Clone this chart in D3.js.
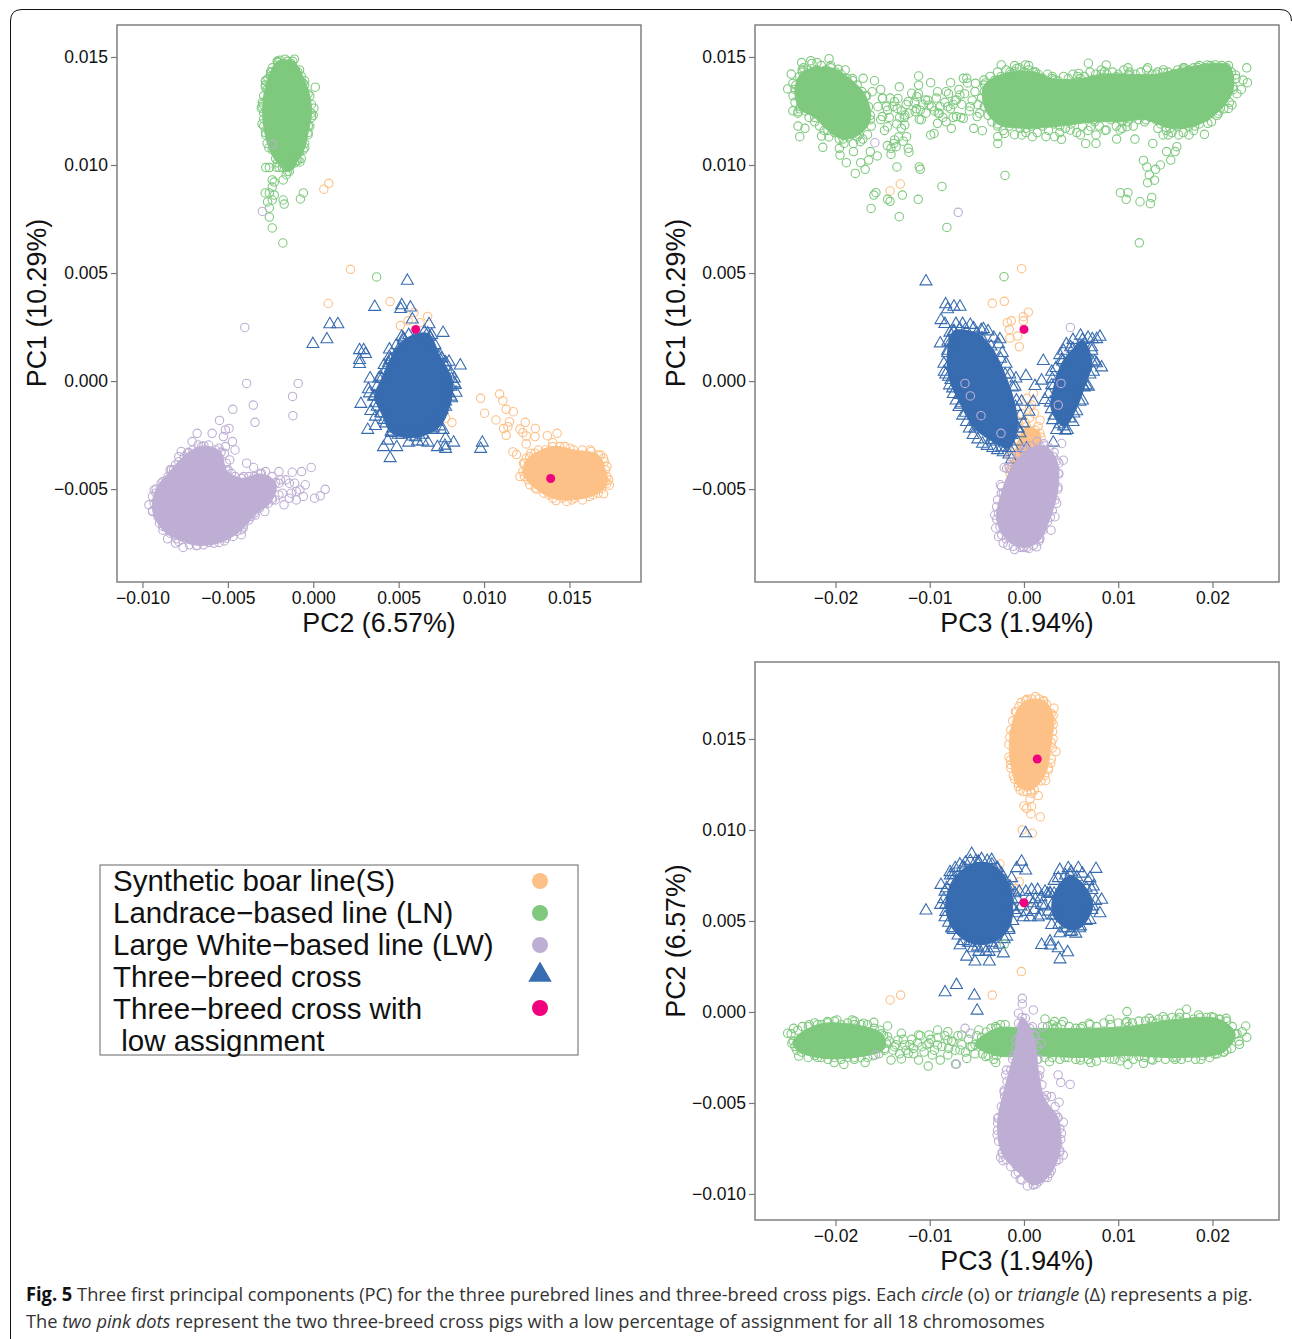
<!DOCTYPE html>
<html>
<head>
<meta charset="utf-8">
<script src="https://cdnjs.cloudflare.com/ajax/libs/d3/7.8.5/d3.min.js"></script>
<style>
body{margin:0;background:#fff;}
svg{display:block;}
</style>
</head>
<body>
<svg id="canvas" width="1292" height="1339"></svg>
<script>
// values. *Core = outline of the area where the points overlap into a solid patch
const pinkPc1=[0.00239,-0.00451];
const pinkPc2=[0.006,0.0139];
const pinkPc3=[0,0.00141];

// PC2 / PC1
const sPc2Pc1=[[0.00218,0.00517],[0.00088,0.00359],[0.0045,0.00368],[0.0059,0.00317],[0.0067,0.00299],[0.0051,0.00257],[0.00555,0.00279],[0.00625,0.0027],[0.00812,-0.00192],[0.00775,-0.00172],[0.0098,-0.0008],[0.01091,-0.0006],[0.0111,-0.00091],[0.0113,-0.00131],[0.01171,-0.00142],[0.01003,-0.00149],[0.0107,-0.0018],[0.01149,-0.00189],[0.0114,-0.00211],[0.01114,-0.0022],[0.0113,-0.00251],[0.01241,-0.00191],[0.0121,-0.00222],[0.013,-0.00219],[0.01227,-0.00239],[0.01247,-0.00254],[0.01299,-0.00257],[0.01371,-0.00253],[0.01428,-0.00242],[0.01247,-0.00291],[0.01169,-0.00328],[0.0119,-0.0034],[0.0121,-0.00442],[0.01734,-0.00482],[0.017,-0.00522],[0.01576,-0.0055],[0.01422,-0.00553],[0.01381,-0.00527],[0.01309,-0.005],[0.01268,-0.0048],[0.01247,-0.00411],[0.01231,-0.0038],[0.01274,-0.00334],[0.01319,-0.00319],[0.01402,-0.00285],[0.01473,-0.00303],[0.01576,-0.00319],[0.01622,-0.00319],[0.01683,-0.00342],[0.01704,-0.00373],[0.0172,-0.00442],[0.0171,-0.00465],[0.01638,-0.00527],[0.01459,-0.00542],[0.0153,-0.00542],[0.00062,0.00888],[0.00091,0.00915],[0.01299,-0.00334],[0.0136,-0.00319],[0.01443,-0.00303],[0.01504,-0.00311],[0.01628,-0.00326],[0.017,-0.00357],[0.0172,-0.00396],[0.0173,-0.00457],[0.01689,-0.00496],[0.01617,-0.00534],[0.01484,-0.00557],[0.0135,-0.00519],[0.01258,-0.00457],[0.01227,-0.00419],[0.01247,-0.00357]];
const sPc2Pc1Core=[[0.01268,-0.0035],[0.01402,-0.00303],[0.01525,-0.00319],[0.01669,-0.00342],[0.0171,-0.00411],[0.0172,-0.00473],[0.01669,-0.00519],[0.01515,-0.0055],[0.01402,-0.00542],[0.01299,-0.00496],[0.01237,-0.00442],[0.01237,-0.0038]];
const lnPc2Pc1=[[-0.00165,0.0149],[-0.00205,0.01475],[-0.00195,0.01485],[-0.0013,0.0147],[-0.00245,0.0143],[-0.00105,0.0144],[-0.0028,0.0137],[-0.0007,0.0141],[-0.00265,0.014],[-0.0005,0.0137],[0.00012,0.0136],[0.00004,0.01263],[-0.0001,0.0122],[-0.00029,0.0118],[-0.00278,0.01389],[-0.00304,0.01263],[-0.0029,0.01213],[-0.00298,0.0129],[-0.00278,0.01139],[-0.00059,0.01069],[-0.0007,0.0103],[-0.00078,0.01014],[-0.00278,0.00988],[-0.00257,0.00988],[-0.00216,0.0099],[-0.00181,0.0099],[-0.00158,0.00988],[-0.00108,0.0101],[-0.00111,0.0104],[-0.00158,0.00955],[-0.00176,0.00931],[-0.0024,0.00931],[-0.00228,0.00921],[-0.0024,0.00898],[-0.00281,0.00871],[-0.00257,0.00871],[-0.00228,0.00861],[-0.00267,0.00829],[-0.0024,0.00838],[-0.00257,0.00801],[-0.00257,0.00759],[-0.00176,0.00838],[-0.0017,0.00819],[-0.00075,0.00843],[-0.00058,0.00871],[-0.0024,0.00709],[-0.00178,0.00639],[0.00371,0.00482],[-0.0018,0.0147],[-0.0012,0.0146],[-0.0009,0.0143],[-0.0006,0.0138],[-0.0003,0.0133],[-0.0001,0.0128],[0,0.0123],[-0.0002,0.0118],[-0.0003,0.0114],[-0.0005,0.011],[-0.0008,0.0106],[-0.001,0.0102],[-0.0013,0.01],[-0.0015,0.0097],[-0.0018,0.0102],[-0.002,0.0099],[-0.0022,0.0103],[-0.0024,0.0107],[-0.0027,0.011],[-0.0028,0.0115],[-0.003,0.0119],[-0.0029,0.0124],[-0.003,0.0127],[-0.0029,0.0132],[-0.0027,0.0135],[-0.0028,0.0139],[-0.0025,0.0141],[-0.0024,0.0145],[-0.0021,0.0148],[-0.0015,0.0148],[-0.0011,0.0149]];
const lnPc2Pc1Core=[[-0.0021,0.0148],[-0.0012,0.0148],[-0.0008,0.0144],[-0.0005,0.0139],[-0.0002,0.0132],[-0.0001,0.0124],[-0.0003,0.0115],[-0.0005,0.0108],[-0.0009,0.0102],[-0.0014,0.0097],[-0.0021,0.0101],[-0.0026,0.0108],[-0.0029,0.0118],[-0.00295,0.0128],[-0.0028,0.0136],[-0.0025,0.0143]];
const lwPc2Pc1=[[-0.00401,0.00248],[-0.0039,-0.00011],[-0.00088,-0.00011],[-0.00121,-0.00071],[-0.00351,-0.00111],[-0.00471,-0.00131],[-0.00119,-0.0016],[-0.00341,-0.00191],[-0.00549,-0.00182],[-0.00493,-0.00219],[-0.00514,-0.00226],[-0.00526,-0.00257],[-0.00592,-0.00242],[-0.0068,-0.00242],[-0.00709,-0.0028],[-0.00473,-0.0028],[-0.00514,-0.00303],[-0.00458,-0.00319],[-0.00773,-0.00326],[-0.00787,-0.0035],[-0.0039,-0.0038],[-0.00349,-0.004],[-0.00012,-0.004],[-0.00068,-0.00419],[-0.00123,-0.00422],[-0.00201,-0.00419],[-0.00279,-0.00419],[0.0007,-0.00501],[0.00041,-0.00531],[0.00008,-0.00542],[-0.00047,-0.0048],[-0.00058,-0.00534],[-0.00099,-0.0055],[-0.00171,-0.00573],[-0.00284,-0.00604],[-0.00129,-0.00519],[-0.00201,-0.00473],[-0.0016,-0.00457],[-0.00109,-0.00473],[-0.00242,-0.00504],[-0.00222,-0.0055],[-0.00273,-0.00457],[-0.00078,-0.00504],[-0.00181,-0.00519],[-0.00304,-0.00565],[-0.00962,-0.00573],[-0.00941,-0.00604],[-0.00921,-0.00519],[-0.0088,-0.00465],[-0.009,-0.00658],[-0.00853,-0.0073],[-0.00807,-0.0075],[-0.00762,-0.0077],[-0.00684,-0.00762],[-0.00612,-0.00747],[-0.00551,-0.00747],[-0.00469,-0.00719],[-0.00421,-0.00711],[-0.00421,-0.00688],[-0.00376,-0.00642],[-0.00345,-0.00611],[-0.00838,-0.00411],[-0.00807,-0.00388],[-0.00736,-0.00334],[-0.00653,-0.00303],[-0.00571,-0.00319],[-0.00509,-0.0038],[-0.00479,-0.00427],[-0.00407,-0.00442],[-0.00345,-0.00442],[-0.00298,0.00785],[-0.0024,0.01095],[-0.00941,-0.00534],[-0.00931,-0.00565],[-0.0091,-0.00627],[-0.0088,-0.00673],[-0.00838,-0.00704],[-0.00787,-0.00742],[-0.00725,-0.00758],[-0.00643,-0.00758],[-0.00582,-0.0075],[-0.0051,-0.00727],[-0.00448,-0.00696],[-0.00407,-0.00665],[-0.00366,-0.00627],[-0.00314,-0.00588],[-0.00263,-0.00565],[-0.00931,-0.00504],[-0.0089,-0.00473],[-0.00849,-0.00442],[-0.00818,-0.00411],[-0.00787,-0.00373],[-0.00756,-0.0035],[-0.00705,-0.00319],[-0.00674,-0.00296],[-0.00612,-0.00296],[-0.00551,-0.00311],[-0.0052,-0.00334],[-0.00489,-0.00365],[-0.00499,-0.00411],[-0.00458,-0.00442],[-0.00376,-0.00442],[-0.00304,-0.00427],[-0.00242,-0.00442],[-0.00191,-0.00457],[-0.0014,-0.00473],[-0.00099,-0.00511],[-0.0014,-0.00542],[-0.00201,-0.00527],[-0.00242,-0.00542],[-0.00284,-0.00565]];
const lwPc2Pc1Core=[[-0.0092,-0.005],[-0.0083,-0.0041],[-0.0073,-0.0033],[-0.0064,-0.003],[-0.0054,-0.0033],[-0.0051,-0.0041],[-0.0042,-0.0045],[-0.0031,-0.0043],[-0.0022,-0.0047],[-0.0024,-0.0055],[-0.0034,-0.0062],[-0.0041,-0.0068],[-0.0052,-0.0074],[-0.0068,-0.0076],[-0.008,-0.0073],[-0.0088,-0.0069],[-0.0094,-0.006]];
const crossPc2Pc1=[[0.00551,0.00464],[0.0036,0.00343],[0.00518,0.00351],[0.00512,0.00333],[0.00569,0.0034],[0.0058,0.00285],[0.00678,0.00263],[0.0076,0.00223],[0.00097,0.00263],[0.00144,0.00263],[0.0008,0.00193],[-0.00002,0.00171],[0.00271,0.00143],[0.00295,0.00143],[0.00306,0.00125],[0.00271,0.00097],[0.00271,0.00079],[0.00446,0.00146],[0.0044,0.00082],[0.00415,0.00074],[0.00861,0.00072],[0.00795,0.00089],[0.00775,0.00086],[0.00826,0.00012],[0.00832,-0.00018],[0.00836,-0.00054],[0.00333,0.00012],[0.00384,0.00012],[0.00323,-0.00038],[0.00329,-0.00057],[0.00279,-0.00106],[0.00337,-0.00139],[0.00364,-0.00165],[0.00319,-0.00226],[0.00364,-0.00208],[0.00436,-0.00276],[0.00411,-0.00306],[0.00489,-0.00306],[0.0045,-0.00357],[0.00559,-0.00285],[0.0061,-0.0028],[0.00641,-0.0028],[0.00672,-0.00285],[0.00727,-0.00306],[0.00775,-0.00314],[0.00771,-0.00299],[0.00822,-0.00285],[0.0076,-0.00226],[0.00775,-0.00265],[0.0099,-0.00285],[0.0098,-0.00314],[0.00395,-0.00072],[0.00374,-0.00119],[0.00415,-0.0018],[0.00456,-0.00234],[0.00497,-0.00249],[0.00693,-0.00226],[0.00723,-0.0018],[0.00775,-0.00119],[0.00806,-0.00072],[0.00806,-0.00026],[0.00764,0.00035],[0.00734,0.00112],[0.00682,0.00205],[0.006,0.00205],[0.00518,0.00205],[0.00497,0.00143],[0.00456,0.00097],[0.00559,0.00213],[0.00651,0.00228],[0.00693,0.00213],[0.00713,0.00166],[0.00754,0.00105],[0.00775,0.00066],[0.00806,0.00035],[0.00826,-0.00011],[0.00795,-0.00057],[0.00775,-0.00095],[0.00754,-0.00134],[0.00723,-0.00188],[0.00703,-0.00219],[0.00641,-0.00249],[0.0058,-0.00257],[0.00518,-0.00249],[0.00466,-0.00219],[0.00425,-0.00196],[0.00395,-0.00149],[0.00364,-0.00103],[0.00353,-0.00072],[0.00374,-0.00026],[0.00395,0.0002],[0.00425,0.00051],[0.00446,0.00112],[0.00487,0.00166],[0.00528,0.00197]];
const crossPc2Pc1Core=[[0.0053,0.0019],[0.0067,0.0022],[0.0074,0.0012],[0.0081,0.0001],[0.0081,-0.0008],[0.0074,-0.0021],[0.006,-0.0026],[0.0046,-0.0024],[0.004,-0.0015],[0.0036,-0.0007],[0.004,0.0001],[0.0045,0.001]];

// PC3 / PC1
const sPc3Pc1=[[-0.00025,0.0052],[-0.00209,0.00369],[-0.00336,0.0036],[-0.00007,0.00298],[0.00046,0.00319],[-0.00007,0.00279],[-0.00177,0.0027],[-0.00134,0.00279],[-0.00156,0.00239],[-0.00067,0.00208],[-0.00149,0.00199],[-0.0005,0.00159],[0.0017,-0.00181],[-0.00025,-0.0015],[0.00081,-0.00111],[0.00099,-0.00057],[0.00117,-0.00227],[-0.01421,0.0088],[-0.01312,0.00912],[-0.0012,-0.0043],[-0.0016,-0.004],[-0.0014,-0.0035],[-0.0009,-0.0031],[-0.0006,-0.0027],[-0.0002,-0.0023],[0.0001,-0.0019],[0.0006,-0.0017],[0.0011,-0.0015],[0.0015,-0.0021],[0.0018,-0.0026],[0.0003,-0.0008],[0.0006,-0.0012],[-0.0006,-0.0019]];
const sPc3Pc1Core=[[0.00028,-0.00211],[0.0017,-0.00242],[0.00134,-0.00335],[-0.00042,-0.00397],[-0.00149,-0.00427],[-0.00113,-0.0035]];
const lnPc3Pc1=[[-0.02507,0.01352],[-0.0247,0.01421],[-0.0236,0.01474],[-0.02262,0.01483],[-0.02196,0.01474],[-0.02068,0.01492],[-0.02353,0.0144],[-0.0197,0.01443],[-0.01897,0.0144],[-0.01706,0.01401],[-0.01586,0.0139],[-0.02452,0.01378],[-0.02452,0.01251],[-0.02397,0.01247],[-0.02397,0.0118],[-0.02379,0.01131],[-0.02324,0.0117],[-0.02134,0.01082],[-0.02148,0.01134],[-0.01959,0.01077],[-0.01952,0.01046],[-0.01885,0.01011],[-0.0179,0.00961],[-0.01732,0.01011],[-0.01685,0.0098],[-0.01648,0.01023],[-0.01557,0.01042],[-0.01809,0.01062],[-0.01736,0.01108],[-0.0163,0.01062],[-0.01611,0.01339],[-0.0152,0.0135],[-0.01502,0.01308],[-0.01323,0.01362],[-0.01337,0.01308],[-0.01374,0.01293],[-0.01228,0.01293],[-0.01345,0.01262],[-0.01447,0.01254],[-0.01502,0.01224],[-0.01319,0.0122],[-0.01447,0.01177],[-0.01264,0.01231],[-0.01264,0.01185],[-0.01301,0.0117],[-0.01246,0.01131],[-0.01374,0.01116],[-0.01411,0.01077],[-0.01356,0.01085],[-0.01228,0.01077],[-0.0122,0.01059],[-0.01411,0.01049],[-0.01348,0.00991],[-0.01118,0.01412],[-0.01118,0.0137],[-0.0099,0.01381],[-0.01191,0.01332],[-0.01136,0.01316],[-0.01045,0.01301],[-0.011,0.01254],[-0.01155,0.01247],[-0.01111,0.01211],[-0.01008,0.01278],[-0.00917,0.01339],[-0.00826,0.01339],[-0.00778,0.01381],[-0.00899,0.01239],[-0.00917,0.01193],[-0.0099,0.01139],[-0.00954,0.01146],[-0.00826,0.012],[-0.00771,0.0117],[-0.00808,0.0127],[-0.00716,0.01301],[-0.00643,0.01401],[-0.00607,0.01401],[-0.0068,0.01324],[-0.00716,0.01224],[-0.00643,0.01216],[-0.00533,0.0117],[-0.00442,0.01159],[-0.00497,0.01224],[-0.00515,0.01378],[-0.00424,0.01393],[-0.0057,0.0127],[-0.00241,0.01463],[-0.00077,0.01447],[0.00015,0.01463],[0.00051,0.0144],[-0.00095,0.01432],[0.00325,0.01393],[0.00581,0.01424],[0.00683,0.01471],[0.00873,0.01463],[0.00855,0.01432],[0.01103,0.0145],[0.00983,0.01409],[0.01312,0.0145],[0.01476,0.01427],[0.01695,0.0144],[0.01842,0.01452],[0.01944,0.01463],[0.02032,0.01463],[0.02134,0.01447],[0.02364,0.0145],[0.02244,0.01417],[0.02324,0.01393],[0.02371,0.01381],[0.02306,0.0135],[0.02207,0.01278],[0.0217,0.01262],[0.02061,0.01239],[0.01915,0.01142],[0.01951,0.01193],[-0.00278,0.01131],[-0.00278,0.011],[-0.00205,0.01146],[-0.00022,0.01139],[0.00088,0.01131],[0.00234,0.01131],[0.00325,0.01131],[0.00398,0.01119],[0.0049,0.01162],[0.00599,0.01139],[0.00654,0.011],[0.00764,0.011],[0.00764,0.01139],[0.00873,0.01162],[0.00983,0.0112],[0.01093,0.01177],[0.01177,0.0112],[0.01019,0.01162],[0.00709,0.01177],[0.01367,0.011],[0.01421,0.0117],[0.01476,0.01139],[0.01531,0.01139],[0.01641,0.01139],[0.0175,0.01139],[0.01622,0.01085],[0.01604,0.01062],[0.01513,0.01062],[0.01557,0.01023],[0.01447,0.01],[0.01268,0.01021],[0.01304,0.00991],[0.01396,0.0098],[0.0133,0.00954],[0.01385,0.0093],[0.01312,0.00918],[-0.00201,0.00952],[-0.01111,0.00991],[-0.011,0.0098],[-0.0087,0.00901],[-0.01571,0.00872],[-0.01593,0.00861],[-0.0129,0.00861],[-0.01447,0.00841],[-0.01421,0.00832],[-0.01122,0.00841],[-0.01622,0.00799],[-0.01323,0.00761],[-0.00818,0.00711],[0.01023,0.00872],[0.01103,0.00872],[0.01085,0.00841],[0.01231,0.0083],[0.01356,0.0085],[0.01341,0.00821],[0.01224,0.0064],[-0.00212,0.00483],
[-0.0041,0.0138],[-0.0036,0.0141],[-0.0032,0.0139],[-0.0028,0.0143],[-0.0024,0.0141],[-0.0019,0.0144],[-0.0014,0.0142],[-0.001,0.0146],[-0.0005,0.0145],[0,0.0143],[0.0005,0.0146],[0.001,0.0143],[0.0015,0.0142],[0.002,0.014],[0.0025,0.0142],[0.003,0.0141],[0.0036,0.0139],[0.0042,0.0141],[0.0047,0.014],[0.0052,0.0142],[0.0057,0.0141],[0.0064,0.0141],[0.007,0.0143],[0.0076,0.0142],[0.0082,0.0144],[0.0088,0.0142],[0.0094,0.0143],[0.01,0.0142],[0.0106,0.0144],[0.0112,0.0143],[0.0118,0.0142],[0.0124,0.0143],[0.013,0.0144],[0.0136,0.0142],[0.0142,0.0143],[0.0148,0.0144],[0.0153,0.0143],[0.0158,0.0142],[0.0163,0.0144],[0.0169,0.0145],[0.0175,0.0144],[0.018,0.0145],[0.0186,0.0146],[0.0192,0.0145],[0.0198,0.0146],[0.0204,0.0145],[0.021,0.0146],[0.0215,0.0145],[0.022,0.0143],[0.0225,0.014],[0.0222,0.0136],[0.0226,0.0133],[0.0218,0.0129],
[0.0212,0.0126],[0.0205,0.0123],[0.0199,0.012],[0.0192,0.0122],[0.0186,0.0119],[0.018,0.0116],[0.0175,0.0118],[0.0169,0.0115],[0.0163,0.0118],[0.0157,0.0115],[0.0151,0.0116],[0.0145,0.0119],[0.014,0.0121],[0.0134,0.0122],[0.0128,0.012],[0.0122,0.0121],[0.0116,0.0118],[0.011,0.012],[0.0104,0.0117],[0.0098,0.0118],[0.0092,0.0121],[0.0086,0.0116],[0.008,0.0118],[0.0074,0.0121],[0.0068,0.0116],[0.0062,0.0118],[0.0056,0.0115],[0.005,0.0119],[0.0044,0.0117],[0.0038,0.0115],[0.0032,0.0119],[0.0026,0.0116],[0.002,0.0118],[0.0014,0.0115],[0.0008,0.0118],[0.0002,0.0115],[-0.0004,0.0117],[-0.001,0.0114],[-0.0016,0.0118],[-0.0022,0.0116],[-0.0028,0.0118],[-0.0034,0.012],[-0.0038,0.0123],[-0.0042,0.0127],[-0.0045,0.0131],[-0.0042,0.0134],
[-0.0245,0.0132],[-0.0242,0.0137],[-0.0238,0.0141],[-0.0234,0.0145],[-0.0229,0.0144],[-0.0225,0.0147],[-0.022,0.0144],[-0.0215,0.0146],[-0.021,0.0144],[-0.0205,0.0146],[-0.02,0.0143],[-0.0194,0.0142],[-0.0188,0.014],[-0.0182,0.014],[-0.0177,0.0137],[-0.0172,0.0134],[-0.0167,0.0132],[-0.0165,0.0127],[-0.0163,0.0123],[-0.0162,0.0118],[-0.0166,0.0114],[-0.0171,0.0112],[-0.0177,0.0113],[-0.0181,0.011],[-0.0186,0.0113],[-0.0191,0.011],[-0.0196,0.0112],[-0.0201,0.0115],[-0.0207,0.0113],[-0.0212,0.0116],[-0.0217,0.0118],[-0.0222,0.012],[-0.0228,0.0122],[-0.0232,0.0125],[-0.0237,0.0127],[-0.024,0.0124],[-0.0243,0.0129],
[-0.0155,0.0127],[-0.015,0.0131],[-0.0146,0.0127],[-0.0142,0.0131],[-0.0152,0.0121],[-0.0148,0.0116],[-0.0143,0.0122],[-0.0139,0.0127],[-0.0135,0.0119],[-0.013,0.0125],[-0.0127,0.0122],[-0.0125,0.0128],[-0.0138,0.011],[-0.0133,0.0113],[-0.0128,0.0111],[-0.0145,0.0109],[-0.0122,0.0124],[-0.0116,0.0129],[-0.0112,0.0133],[-0.0107,0.0128],[-0.0104,0.0124],[-0.0102,0.013],[-0.0098,0.0127],[-0.0095,0.0125],[-0.0093,0.0131],[-0.0089,0.0127],[-0.0086,0.0122],[-0.0084,0.0129],[-0.008,0.0133],[-0.0078,0.0126],[-0.0075,0.0122],[-0.0073,0.013],[-0.0069,0.0135],[-0.0066,0.0128],[-0.0063,0.0133],[-0.006,0.0138],[-0.0058,0.0125],[-0.0055,0.013],[-0.0052,0.0134],[-0.0049,0.0128],[-0.0047,0.0124],[-0.0067,0.0122],[-0.0075,0.0128],[-0.0091,0.0124],[-0.0109,0.0121],[-0.0114,0.0126]];
const lnPc3Pc1CoreLeft=[[-0.0235,0.0143],[-0.0205,0.0145],[-0.0182,0.0139],[-0.0168,0.0132],[-0.0163,0.0121],[-0.0175,0.0114],[-0.0192,0.0112],[-0.0208,0.0116],[-0.0222,0.0122],[-0.0238,0.0126],[-0.0243,0.0135]];
const lnPc3Pc1CoreRight=[[-0.0042,0.0137],[-0.0015,0.0143],[0.0012,0.0143],[0.003,0.014],[0.006,0.014],[0.0082,0.0142],[0.0111,0.0142],[0.014,0.0142],[0.017,0.0145],[0.0217,0.0146],[0.0222,0.0135],[0.0207,0.0125],[0.0181,0.0118],[0.0155,0.0117],[0.0129,0.0121],[0.0104,0.012],[0.0075,0.012],[0.0038,0.0118],[0.0002,0.0117],[-0.0028,0.0119],[-0.0042,0.0127]];
const lwPc3Pc1=[[-0.00698,0.00781],[-0.01582,0.01103],[0.00492,0.00248],[-0.00626,-0.00011],[-0.00569,-0.00069],[-0.00456,-0.0016],[-0.00244,-0.00242],[0.00393,-0.00011],[0.00364,-0.00111],[0.004,-0.00289],[0.00417,-0.00366],[-0.00149,-0.0035],[-0.00184,-0.00404],[-0.00237,-0.00489],[-0.00272,-0.00613],[-0.00237,-0.00713],[-0.00113,-0.00764],[0.00053,-0.00775],[0.0017,-0.00728],[0.00287,-0.0069],[0.00347,-0.00566],[0.00364,-0.00427],[0.00311,-0.0035],[0.0017,-0.00304],[-0.00007,-0.00327],[-0.00255,-0.00674],[-0.0029,-0.00582],[-0.00219,-0.0052],[-0.00007,-0.00767],[-0.00095,-0.00736],[0.00311,-0.00489],[0.00329,-0.00628],[0.00134,-0.00767],[-0.0021,-0.004],[-0.0025,-0.0048],[-0.0028,-0.0055],[-0.0031,-0.0062],[-0.003,-0.0068],[-0.0027,-0.0072],[-0.0022,-0.0075],[-0.0017,-0.0076],[-0.001,-0.0078],[-0.0004,-0.0077],[0.0003,-0.0077],[0.001,-0.0076],[0.0016,-0.0073],[0.002,-0.0069],[0.0025,-0.0065],[0.003,-0.006],[0.0033,-0.0055],[0.0036,-0.0049],[0.0037,-0.0043],[0.0037,-0.0038],[0.0032,-0.0033],[0.0027,-0.0031],[0.0021,-0.0029],[0.0014,-0.0028],[0.0007,-0.003],[0.0001,-0.0031],[-0.0005,-0.0034],[-0.001,-0.0037],[-0.0015,-0.004]];
const lwPc3Pc1Core=[[0.0003,-0.0032],[0.0022,-0.003],[0.0035,-0.0037],[0.0036,-0.005],[0.0028,-0.0063],[0.0016,-0.0074],[0,-0.0077],[-0.0019,-0.0073],[-0.0029,-0.0064],[-0.0024,-0.0052],[-0.0014,-0.0041]];
const crossPc3Pc1=[[-0.0104,0.00461],[-0.00831,0.00355],[-0.00743,0.00344],[-0.00679,0.00344],[-0.0081,0.00332],[-0.00881,0.00282],[-0.00839,0.00264],[-0.00722,0.00264],[-0.00651,0.00264],[-0.00534,0.00244],[-0.00453,0.00236],[-0.00786,0.00224],[-0.00447,0.00198],[-0.00255,0.00193],[-0.00888,0.00174],[-0.00807,0.00182],[-0.00248,0.00103],[-0.00846,0.00043],[-0.00775,0.00005],[-0.00757,-0.00034],[-0.00679,-0.00065],[-0.00661,-0.00103],[-0.00619,-0.00147],[-0.0052,-0.00188],[-0.00467,-0.00211],[-0.00343,-0.00273],[-0.00237,-0.00307],[-0.00131,-0.00363],[-0.00085,0.00012],[0.00021,0.00023],[-0.00095,-0.00026],[0.00187,0.00002],[0.00205,0.00093],[0.00117,-0.00023],[-0.00025,-0.00096],[0.00053,-0.00142],[0.00099,-0.00096],[-0.00007,-0.00196],[-0.00042,-0.00242],[0.00028,-0.00312],[-0.00131,-0.0025],[0.00294,0.00043],[0.00495,0.00156],[0.0063,0.00156],[0.00725,0.00194],[0.00806,0.00205],[0.00771,0.00194],[0.00718,0.00156],[0.00771,0.00082],[0.00824,0.00063],[0.00736,0.00043],[0.00683,-0.00026],[0.00594,-0.00096],[0.00488,-0.00173],[0.0046,-0.00227],[0.00347,-0.00227],[0.00311,-0.00285],[0.00304,-0.00181],[0.00223,-0.00088],[0.00294,-0.00019],[0.004,0.00097],[0.0063,-0.00026],
[-0.0078,0.0018],[-0.0081,0.0013],[-0.0085,0.0008],[-0.0079,0.0008],[-0.0083,0.0003],[-0.0079,-0.0002],[-0.0075,-0.0006],[-0.0072,-0.0009],[-0.0069,-0.0012],[-0.0065,-0.0016],[-0.0061,-0.0019],[-0.0058,-0.0022],[-0.0054,-0.0025],[-0.0049,-0.0027],[-0.0044,-0.0029],[-0.0039,-0.003],[-0.0033,-0.0031],[-0.0028,-0.0032],[-0.0022,-0.0033],[-0.0016,-0.0034],[-0.0011,-0.0031],[-0.0007,-0.0028],[-0.0006,-0.0022],[-0.0004,-0.0016],[-0.0008,-0.0009],[-0.0012,-0.0003],[-0.0015,0.0003],[-0.0019,0.0008],[-0.0023,0.0013],[-0.0027,0.0017],[-0.0032,0.002],[-0.0038,0.0023],[-0.0043,0.0024],[-0.0057,0.0026],[-0.0062,0.0024],[-0.0068,0.0024],[-0.0074,0.0023],
[0.0045,0.0017],[0.0052,0.0019],[0.006,0.0021],[0.0068,0.002],[0.0072,0.0014],[0.0075,0.0009],[0.007,0.0003],[0.0066,-0.0002],[0.0062,-0.0009],[0.0056,-0.0014],[0.0052,-0.0019],[0.0044,-0.0023],[0.0038,-0.002],[0.0032,-0.0016],[0.0028,-0.001],[0.0026,-0.0006],[0.003,0.0001],[0.0034,0.0006],[0.0038,0.0012],[0.0042,0.0014]];
const crossPc3Pc1CoreLeft=[[-0.0075,0.0023],[-0.005,0.0022],[-0.0035,0.0016],[-0.002,0.0003],[-0.0009,-0.0012],[-0.0007,-0.0022],[-0.0016,-0.0031],[-0.0033,-0.0028],[-0.0052,-0.0022],[-0.0067,-0.0011],[-0.008,0.0002],[-0.0081,0.0014]];
const crossPc3Pc1CoreRight=[[0.0062,0.0019],[0.0072,0.0009],[0.0064,-0.0003],[0.0053,-0.0015],[0.0042,-0.0021],[0.0029,-0.0013],[0.0032,-0.0002],[0.0041,0.0009],[0.0052,0.0015]];

// PC3 / PC2
const sPc3Pc2=[[0.00124,0.01733],[0.00028,0.01718],[-0.00053,0.01678],[0.00318,0.01669],[0.00205,0.01706],[0.00294,0.01596],[0.00304,0.01541],[-0.00113,0.01532],[0.0034,0.01431],[0.00283,0.01367],[0.00258,0.0133],[0.0023,0.01271],[-0.00141,0.01385],[-0.00113,0.01299],[-0.0006,0.01257],[-0.00007,0.01211],[0.00152,0.01189],[0.00081,0.01202],[0.00064,0.01169],[0,0.01132],[0.00081,0.01129],[0.00028,0.01119],[0.00074,0.01088],[0.00173,0.01072],[-0.00018,0.01],[0.00088,0.00982],[-0.00255,0.00813],[-0.0005,0.00716],[-0.00085,0.0068],[-0.00028,0.00222],[-0.00336,0.00093],[-0.01309,0.00093],[-0.0142,0.00066],[0.00046,0.00579],[-0.00113,0.00579],[0.00095,-0.0031],[-0.0003,0.017],[0.0008,0.0172],[0.0016,0.0172],[0.0024,0.0169],[0.0029,0.0164],[0.0031,0.0158],[0.0031,0.015],[0.003,0.0145],[0.0029,0.0139],[0.0026,0.0134],[0.0018,0.0127],[0.0011,0.0122],[0.0003,0.0121],[-0.0004,0.0122],[-0.001,0.0128],[-0.0014,0.0134],[-0.0016,0.014],[-0.0016,0.0147],[-0.0014,0.0155],[-0.0012,0.016],[-0.0009,0.0165]];
const sPc3Pc2Core=[[0.0002,0.0171],[0.0021,0.0171],[0.0031,0.0163],[0.0029,0.0148],[0.0022,0.013],[0.0007,0.0122],[-0.0006,0.0124],[-0.0014,0.0136],[-0.0015,0.0151],[-0.0008,0.0165]];
const lnPc3Pc2=[[-0.02507,-0.00117],[-0.02445,-0.0009],[-0.02463,-0.00172],[-0.0239,-0.00242],[-0.02287,-0.00081],[-0.02086,-0.00053],[-0.01984,-0.00044],[-0.01823,-0.00044],[-0.01703,-0.00062],[-0.01593,-0.00057],[-0.01447,-0.00077],[-0.02013,-0.00278],[-0.01911,-0.00288],[-0.01685,-0.00278],[-0.01411,-0.00264],[-0.01301,-0.00258],[-0.01301,-0.00117],[-0.01337,-0.00154],[-0.01228,-0.00227],[-0.01374,-0.00191],[-0.01447,-0.00136],[-0.01191,-0.0015],[-0.01118,-0.00126],[-0.01118,-0.00264],[-0.01016,-0.00297],[-0.01082,-0.00191],[-0.01008,-0.00126],[-0.00917,-0.00099],[-0.00808,-0.00108],[-0.00888,-0.00264],[-0.00808,-0.00236],[-0.00727,-0.00286],[-0.00917,-0.00181],[-0.00753,-0.00163],[-0.00661,-0.00126],[-0.00607,-0.00255],[-0.00479,-0.00099],[-0.00406,-0.00245],[-0.003,-0.00277],[-0.0057,-0.00191],[-0.0068,-0.00209],[-0.00972,-0.00236],[-0.01173,-0.002],[-0.01264,-0.00181],[-0.01008,-0.00172],[-0.00808,-0.00154],[0.00223,-0.00038],[0.00325,-0.00053],[0.00417,-0.00053],[0.00691,-0.00062],[0.0091,-0.0004],[0.01093,0.00002],[0.01093,-0.00053],[0.0133,-0.00035],[0.01476,-0.00026],[0.01652,-0.00007],[0.01725,0.00015],[0.01853,-0.00016],[0.02145,-0.00035],[0.02353,-0.00077],[0.02317,-0.00108],[0.02364,-0.00139],[0.02287,-0.00178],[0.02152,-0.00209],[0.02024,-0.00231],[0.01878,-0.0026],[0.01604,-0.0026],[0.01367,-0.00264],[0.01268,-0.00282],[0.01103,-0.00288],[0.01019,-0.00269],[0.0091,-0.00258],[0.00709,-0.00278],[0.00599,-0.00264],[0.0027,-0.00273],[0.0122,-0.00245],[0.01403,-0.00062],[0.01988,-0.00026],[0.00435,-0.00249],[-0.00209,0.00372],
[-0.0247,-0.0012],[-0.024,-0.001],[-0.0235,-0.0008],[-0.0228,-0.0007],[-0.0222,-0.0006],[-0.0215,-0.0007],[-0.0208,-0.0006],[-0.0201,-0.0005],[-0.0194,-0.0007],[-0.0187,-0.0006],[-0.018,-0.0005],[-0.0173,-0.0007],[-0.0166,-0.0007],[-0.0159,-0.0009],[-0.0153,-0.001],[-0.0149,-0.0013],[-0.0146,-0.0017],[-0.0148,-0.0021],[-0.0154,-0.0023],[-0.016,-0.0024],[-0.0166,-0.0025],[-0.0173,-0.0025],[-0.018,-0.0026],[-0.0187,-0.0025],[-0.0194,-0.0026],[-0.0201,-0.0025],[-0.0208,-0.0026],[-0.0215,-0.0025],[-0.0222,-0.0024],[-0.0229,-0.0025],[-0.0236,-0.0022],[-0.0243,-0.0019],
[-0.0143,-0.0016],[-0.0139,-0.0021],[-0.0136,-0.0018],[-0.0132,-0.0023],[-0.0128,-0.0015],[-0.0125,-0.0021],[-0.0121,-0.0018],[-0.0117,-0.0023],[-0.0113,-0.0017],[-0.011,-0.0013],[-0.0106,-0.0022],[-0.0103,-0.0018],[-0.0099,-0.0015],[-0.0095,-0.0021],[-0.0091,-0.0014],[-0.0087,-0.0019],[-0.0084,-0.0013],[-0.008,-0.002],[-0.0077,-0.0016],[-0.0073,-0.0021],[-0.007,-0.0013],[-0.0066,-0.0018],[-0.0062,-0.0022],[-0.0059,-0.0015],[-0.0055,-0.0019],[-0.0052,-0.0023],[-0.005,-0.0013],
[-0.0045,-0.0014],[-0.004,-0.0011],[-0.0035,-0.0009],[-0.003,-0.0008],[-0.0025,-0.0007],[-0.002,-0.0007],[0.0025,-0.0008],[0.003,-0.0007],[0.0035,-0.0008],[0.004,-0.0007],[0.0048,-0.0008],[0.0055,-0.0009],[0.0062,-0.0008],[0.007,-0.0007],[0.0077,-0.0008],[0.0085,-0.0006],[0.0092,-0.0007],[0.01,-0.0006],[0.0108,-0.0006],[0.0115,-0.0006],[0.0122,-0.0005],[0.0129,-0.0005],[0.0136,-0.0005],[0.0143,-0.0004],[0.015,-0.0004],[0.0157,-0.0003],[0.0165,-0.0003],[0.0172,-0.0003],[0.018,-0.0004],[0.0187,-0.0003],[0.0194,-0.0003],[0.0201,-0.0003],[0.0208,-0.0004],[0.0215,-0.0005],[0.0221,-0.0008],[0.0226,-0.0012],[0.0228,-0.0016],[0.022,-0.002],
[0.0212,-0.0022],[0.0205,-0.0023],[0.0197,-0.0025],[0.019,-0.0024],[0.0182,-0.0026],[0.0174,-0.0025],[0.0167,-0.0026],[0.0158,-0.0025],[0.015,-0.0026],[0.0142,-0.0025],[0.0135,-0.0026],[0.0128,-0.0025],[0.0116,-0.0026],[0.0106,-0.0025],[0.0096,-0.0026],[0.0085,-0.0025],[0.0077,-0.0027],[0.0068,-0.0026],[0.0055,-0.0026],[0.0047,-0.0025],[0.0038,-0.0026],[0.003,-0.0025],[0.0022,-0.0025],[0.0014,-0.0026],[-0.0032,-0.0026],[-0.0038,-0.0024],[-0.0044,-0.0023]];
const lnPc3Pc2CoreLeft=[[-0.0245,-0.0016],[-0.0219,-0.0007],[-0.018,-0.0007],[-0.0151,-0.0012],[-0.0148,-0.002],[-0.018,-0.0025],[-0.0219,-0.0025],[-0.0241,-0.0021]];
const lnPc3Pc2CoreRight=[[-0.0052,-0.0018],[-0.0029,-0.0009],[0.0002,-0.0009],[0.0031,-0.0009],[0.006,-0.0009],[0.0111,-0.0008],[0.0162,-0.0004],[0.0207,-0.0004],[0.0224,-0.0012],[0.0212,-0.0022],[0.0162,-0.0025],[0.0111,-0.0024],[0.006,-0.0025],[0.0009,-0.0024],[-0.0029,-0.0024]];
const lwPc3Pc2=[[-0.00716,-0.00286],[-0.00625,-0.0009],[-0.0057,-0.00117],[-0.01575,-0.00236],[-0.00018,0.00075],[-0.00018,0.00044],[0.00099,0.00011],[-0.00058,-0.00007],[0.00362,-0.00346],[0.00391,-0.00387],[0.0049,-0.00398],[0.00289,-0.00465],[0.00373,-0.00496],[0.00417,-0.00606],[0.00398,-0.00667],[0.00417,-0.00786],[0.00369,-0.0081],[-0.00248,-0.00799],[-0.00223,-0.00817],[-0.00077,-0.0085],[0.00037,-0.00956],[0.00132,-0.00945],[0.00271,-0.00887],[-0.00278,-0.00584],[-0.00285,-0.00676],[-0.00186,-0.00319],[-0.00194,-0.00346],[-0.00205,-0.00465],[0.00143,-0.00355],[0.0018,-0.00172],[0.00197,-0.00081],[-0.00084,-0.00154],[-0.00058,-0.00062],[0.00088,-0.00081],[0.00015,-0.00035],[0.0019,-0.00465],[0.00336,-0.00566],[0.00362,-0.00722],[-0.00223,-0.00703],[-0.00022,-0.00923],[-0.0003,-0.0008],[0.0006,-0.0009],[-0.0006,-0.0014],[0.0012,-0.0013],[-0.0009,-0.002],[0.0014,-0.0019],[-0.0012,-0.0026],[0.0015,-0.0026],[-0.0014,-0.0032],[0.0017,-0.0032],[-0.0018,-0.0038],[0.0019,-0.004],[0.0024,-0.0046],[-0.0021,-0.0044],[-0.0024,-0.0052],[0.0033,-0.0052],[0.0036,-0.0058],[-0.0027,-0.0058],[0.0038,-0.0064],[-0.0028,-0.0065],[0.0039,-0.007],[-0.0027,-0.0071],[0.0038,-0.0076],[-0.0023,-0.0077],[0.0034,-0.0082],[-0.0019,-0.0081],[0.0029,-0.0087],[-0.0014,-0.0085],[0.0022,-0.0091],[-0.0009,-0.0089],[0.0016,-0.0093],[-0.0004,-0.0092],[0.001,-0.0095]];
const lwPc3Pc2Core=[[-0.0002,-0.0003],[0.001,-0.0013],[0.0016,-0.0035],[0.0022,-0.0048],[0.0036,-0.0058],[0.0038,-0.0077],[0.0025,-0.0091],[0.001,-0.0095],[-0.0006,-0.0088],[-0.0023,-0.0078],[-0.0028,-0.0061],[-0.0021,-0.0043],[-0.0011,-0.0024]];
const crossPc3Pc2=[[-0.00555,0.00868],[-0.00343,0.00835],[-0.00785,0.00768],[-0.0075,0.00753],[-0.00881,0.00698],[-0.00884,0.00588],[-0.0104,0.00557],[-0.00651,0.00795],[-0.00485,0.00826],[-0.00838,0.00661],[-0.00838,0.0052],[-0.00768,0.0046],[-0.00679,0.00366],[-0.00608,0.00304],[-0.0052,0.00277],[-0.00368,0.00277],[-0.00403,0.00332],[-0.00219,0.00322],[-0.00184,0.00414],[-0.00492,0.00359],[-0.00025,0.00826],[-0.00078,0.0079],[0.00018,0.00777],[-0.00131,0.00735],[0.00018,0.00982],[0.00081,0.0067],[0.00145,0.0067],[0.00223,0.00661],[-0.00007,0.0052],[0.00064,0.0052],[0.00152,0.0052],[-0.00078,0.00542],[0.00099,0.00597],[0.00187,0.00588],[-0.00095,0.00652],[0.0047,0.0079],[0.00577,0.0079],[0.00764,0.00786],[0.00364,0.00735],[0.007,0.00735],[0.00736,0.00689],[0.00824,0.00616],[0.00806,0.00542],[0.007,0.00506],[0.00506,0.00442],[0.00382,0.00432],[0.00294,0.00478],[0.00258,0.00551],[0.00276,0.00652],[0.00187,0.00368],[0.00276,0.00387],[0.00283,0.00365],[0.00364,0.0035],[0.00463,0.00328],[0.00382,0.00289],[-0.00837,0.00108],[-0.00716,0.00148],[-0.00526,0.0009],[-0.00497,0.00007],
[-0.0078,0.0075],[-0.0073,0.0079],[-0.0068,0.0081],[-0.0062,0.0082],[-0.0057,0.0083],[-0.0051,0.0083],[-0.0045,0.0084],[-0.0039,0.0083],[-0.0034,0.0081],[-0.0029,0.0079],[-0.0024,0.0076],[-0.002,0.0072],[-0.0016,0.0067],[-0.0013,0.0062],[-0.0011,0.0056],[-0.0012,0.005],[-0.0016,0.0045],[-0.0021,0.004],[-0.0026,0.0037],[-0.0032,0.0035],[-0.0037,0.0033],[-0.0043,0.0035],[-0.0048,0.0033],[-0.0054,0.0035],[-0.0059,0.0038],[-0.0064,0.0039],[-0.007,0.0042],[-0.0075,0.0045],[-0.008,0.0049],[-0.0083,0.0055],[-0.0085,0.0062],[-0.0082,0.0068],
[-0.0005,0.0066],[0.0002,0.0066],[0.0006,0.0062],[0.0012,0.0062],[0.0018,0.0063],[0.0022,0.0058],[0.0018,0.0053],[0.0011,0.0056],[0.0003,0.0055],[-0.0003,0.0058],[-0.0007,0.0062],[0.0025,0.0065],
[0.0032,0.0072],[0.0038,0.0078],[0.0044,0.0075],[0.005,0.0077],[0.0056,0.0074],[0.0062,0.0076],[0.0068,0.0072],[0.0072,0.0067],[0.0076,0.0061],[0.0072,0.0056],[0.0066,0.005],[0.006,0.0047],[0.0055,0.0043],[0.0049,0.0044],[0.0043,0.0046],[0.0037,0.0048],[0.0033,0.0053],[0.003,0.0059],[0.0028,0.0065]];
const crossPc3Pc2CoreLeft=[[-0.0048,0.0082],[-0.0028,0.0079],[-0.0015,0.0069],[-0.0012,0.0058],[-0.0016,0.0046],[-0.0034,0.0038],[-0.0057,0.0038],[-0.0076,0.0046],[-0.0083,0.0059],[-0.0076,0.0072],[-0.0063,0.0079]];
const crossPc3Pc2CoreRight=[[0.0049,0.0075],[0.0066,0.0068],[0.0073,0.0058],[0.0059,0.0046],[0.0045,0.0046],[0.0031,0.0053],[0.0032,0.0065]];

const pc2Domain=[-0.01149,0.01919];
const pc3Domain=[-0.02854,0.02706];
const pc1Domain=[-0.0093,0.01648];
const pc2YDomain=[-0.01143,0.01923];
const pc1Ticks=[-0.005,0,0.005,0.01,0.015];
const pc2Ticks=[-0.01,-0.005,0,0.005,0.01,0.015];
const pc3Ticks=[-0.02,-0.01,0,0.01,0.02];

const legendLabels=["Synthetic boar line(S)","Landrace\u2212based line (LN)","Large White\u2212based line (LW)","Three\u2212breed cross","Three\u2212breed cross with"," low assignment"];

const orange="#FDC086",green="#7FC97F",purple="#BEAED4",blue="#386CB0",pink="#F0027F";

let canvas=d3.select("#canvas");

// journal page border
canvas.append("path").attr("d","M10.5,1339V21Q10.5,9.5 22,9.5H1280Q1291.5,9.5 1291.5,21").attr("fill","none").attr("stroke","#111").attr("stroke-width",1);

let blob=(g,core,color,x,y)=>{
    g.append("path").attr("d",d3.line().x(d=>x(d[0])).y(d=>y(d[1])).curve(d3.curveCatmullRomClosed)(core)).attr("fill",color).attr("stroke",color).attr("stroke-width",1);
};
let circles=(g,pts,color,x,y)=>{
    g.append("g").selectAll("circle").data(pts).enter().append("circle").attr("cx",d=>x(d[0])).attr("cy",d=>y(d[1])).attr("r",4.2).attr("fill","none").attr("stroke",color).attr("stroke-width",1.1);
};
let triangles=(g,pts,x,y)=>{
    let tri=d3.symbol().type(d3.symbolTriangle).size(62)();
    g.append("g").selectAll("path").data(pts).enter().append("path").attr("d",tri).attr("transform",d=>"translate("+x(d[0])+","+y(d[1])+")").attr("fill","none").attr("stroke",blue).attr("stroke-width",1.1);
};

let drawPanel=(p)=>{
    let x=d3.scaleLinear().domain(p.xDomain).range([p.left,p.right]);
    let y=d3.scaleLinear().domain(p.yDomain).range([p.bottom,p.top]);
    let g=canvas.append("g");
    // same stacking as the figure: purple lies over everything, pink is hidden by it
    p.s.core.forEach(c=>blob(g,c,orange,x,y));
    p.s.core.forEach(c=>circles(g,c,orange,x,y));
    circles(g,p.s.pts,orange,x,y);
    p.cross.core.forEach(c=>blob(g,c,blue,x,y));
    p.cross.core.forEach(c=>triangles(g,c,x,y));
    triangles(g,p.cross.pts,x,y);
    g.append("g").selectAll("circle").data(d3.zip(p.pinkX,p.pinkY)).enter().append("circle").attr("cx",d=>x(d[0])).attr("cy",d=>y(d[1])).attr("r",4.5).attr("fill",pink);
    p.ln.core.forEach(c=>blob(g,c,green,x,y));
    p.ln.core.forEach(c=>circles(g,c,green,x,y));
    circles(g,p.ln.pts,green,x,y);
    p.lw.core.forEach(c=>blob(g,c,purple,x,y));
    p.lw.core.forEach(c=>circles(g,c,purple,x,y));
    circles(g,p.lw.pts,purple,x,y);

    let xAxis=d3.axisBottom(x).tickValues(p.xTicks).tickFormat(d3.format(p.xFormat)).tickSize(6).tickSizeOuter(0);
    let yAxis=d3.axisLeft(y).tickValues(p.yTicks).tickFormat(d3.format(".3f")).tickSize(6).tickSizeOuter(0);
    let ax=canvas.append("g").attr("transform","translate(0,"+p.bottom+")").call(xAxis);
    let ay=canvas.append("g").attr("transform","translate("+p.left+",0)").call(yAxis);
    [ax,ay].forEach(a=>{
        a.select(".domain").remove();
        a.selectAll("line").attr("stroke","#777").attr("stroke-width",1.2);
        a.selectAll("text").attr("fill","#111").style("font","17.5px 'Liberation Sans'");
    });
    ax.selectAll("text").attr("dy","0").attr("y",22);
    ay.selectAll("text").attr("x",-9);
    canvas.append("rect").attr("x",p.left).attr("y",p.top).attr("width",p.right-p.left).attr("height",p.bottom-p.top).attr("fill","none").attr("stroke","#777").attr("stroke-width",1.4);
    canvas.append("text").attr("x",p.xTitleX).attr("y",p.bottom+50).attr("text-anchor","middle").style("font","26.8px 'Liberation Sans'").attr("fill","#111").text(p.xTitle);
    canvas.append("text").attr("transform","translate("+p.yTitleX+","+p.yTitleY+") rotate(-90)").attr("text-anchor","middle").style("font","26.8px 'Liberation Sans'").attr("fill","#111").text(p.yTitle);
};

drawPanel({left:117,right:641,top:25,bottom:582,xDomain:pc2Domain,yDomain:pc1Domain,xTicks:pc2Ticks,yTicks:pc1Ticks,xFormat:".3f",xTitle:"PC2 (6.57%)",yTitle:"PC1 (10.29%)",xTitleX:379,yTitleX:46,yTitleY:303,pinkX:pinkPc2,pinkY:pinkPc1,
    s:{pts:sPc2Pc1,core:[sPc2Pc1Core]},ln:{pts:lnPc2Pc1,core:[lnPc2Pc1Core]},lw:{pts:lwPc2Pc1,core:[lwPc2Pc1Core]},cross:{pts:crossPc2Pc1,core:[crossPc2Pc1Core]}});
drawPanel({left:755,right:1279,top:25,bottom:582,xDomain:pc3Domain,yDomain:pc1Domain,xTicks:pc3Ticks,yTicks:pc1Ticks,xFormat:".2f",xTitle:"PC3 (1.94%)",yTitle:"PC1 (10.29%)",xTitleX:1017,yTitleX:685,yTitleY:303,pinkX:pinkPc3,pinkY:pinkPc1,
    s:{pts:sPc3Pc1,core:[sPc3Pc1Core]},ln:{pts:lnPc3Pc1,core:[lnPc3Pc1CoreLeft,lnPc3Pc1CoreRight]},lw:{pts:lwPc3Pc1,core:[lwPc3Pc1Core]},cross:{pts:crossPc3Pc1,core:[crossPc3Pc1CoreLeft,crossPc3Pc1CoreRight]}});
drawPanel({left:755,right:1279,top:662,bottom:1220,xDomain:pc3Domain,yDomain:pc2YDomain,xTicks:pc3Ticks,yTicks:pc2Ticks,xFormat:".2f",xTitle:"PC3 (1.94%)",yTitle:"PC2 (6.57%)",xTitleX:1017,yTitleX:685,yTitleY:941,pinkX:pinkPc3,pinkY:pinkPc2,
    s:{pts:sPc3Pc2,core:[sPc3Pc2Core]},ln:{pts:lnPc3Pc2,core:[lnPc3Pc2CoreLeft,lnPc3Pc2CoreRight]},lw:{pts:lwPc3Pc2,core:[lwPc3Pc2Core]},cross:{pts:crossPc3Pc2,core:[crossPc3Pc2CoreLeft,crossPc3Pc2CoreRight]}});

// legend
let legend=canvas.append("g");
legend.append("rect").attr("x",100).attr("y",865).attr("width",478).attr("height",190).attr("fill","#fff").attr("stroke","#666").attr("stroke-width",1);
legend.selectAll("text").data(legendLabels).enter().append("text").attr("x",113).attr("y",(d,i)=>891+i*32).attr("xml:space","preserve").style("white-space","pre").style("font","29.5px 'Liberation Sans'").attr("fill","#111").text(d=>d);
legend.selectAll("circle").data([[881,orange],[913,green],[945,purple],[1008,pink]]).enter().append("circle").attr("cx",540).attr("cy",d=>d[0]).attr("r",8).attr("fill",d=>d[1]);
legend.append("path").attr("d",d3.symbol().type(d3.symbolTriangle).size(240)()).attr("transform","translate(540,975)").attr("fill",blue);

// caption, squeezed sideways to the reference's line widths
let cap=canvas.append("g").attr("fill","#333").style("font","19px 'Open Sans'");
let fit=(line,x,y,w)=>{
    let k=w/line.node().getComputedTextLength();
    line.attr("transform","translate("+x+","+y+") scale("+k+",1)");
};
let line1=cap.append("text");
line1.append("tspan").attr("font-weight","bold").attr("fill","#111").text("Fig. 5");
line1.append("tspan").text("  Three first principal components (PC) for the three purebred lines and three-breed cross pigs. Each ");
line1.append("tspan").attr("font-style","italic").text("circle");
line1.append("tspan").text(" (o) or ");
line1.append("tspan").attr("font-style","italic").text("triangle");
line1.append("tspan").text(" (\u0394) represents a pig.");
fit(line1,26,1301,1228);
let line2=cap.append("text");
line2.append("tspan").text("The ");
line2.append("tspan").attr("font-style","italic").text("two pink dots");
line2.append("tspan").text(" represent the two three-breed cross pigs with a low percentage of assignment for all 18 chromosomes");
fit(line2,26,1328,1020);
</script>
</body>
</html>
